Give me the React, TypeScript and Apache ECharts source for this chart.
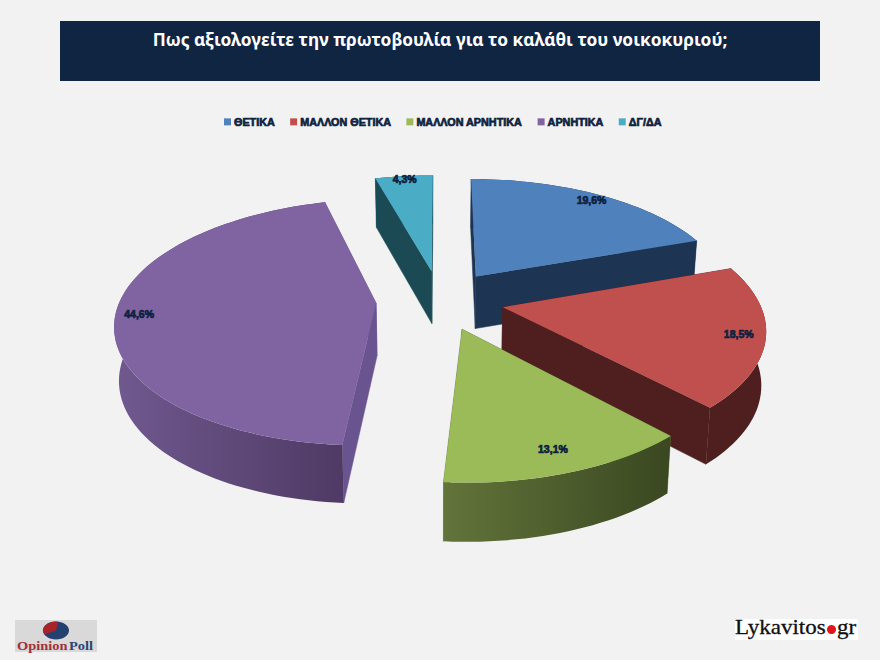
import React, { useEffect, useRef } from "react";
import * as echarts from "echarts";

const titleText = "Πως αξιολογείτε την πρωτοβουλία για το καλάθι του νοικοκυριού;";
const categories = ["ΘΕΤΙΚΑ", "ΜΑΛΛΟΝ ΘΕΤΙΚΑ", "ΜΑΛΛΟΝ ΑΡΝΗΤΙΚΑ", "ΑΡΝΗΤΙΚΑ", "ΔΓ/ΔΑ"];
const values = [19.6, 18.5, 13.1, 44.6, 4.3];

const topColors = ["#4f81bd", "#c0504d", "#9bbb59", "#8064a2", "#4bacc6"];
const wallColors = ["#1d3552", "#4e1f1e", "#62743a", "#6a5490", "#1b4a55"];
const arcColorsFrom = ["#1d3552", "#4e1f1e", "#62743a", "#70598f", "#1b4a55"];
const arcColorsTo = ["#1d3552", "#4e1f1e", "#3a4721", "#4e3a64", "#1b4a55"];
const drawOrder = [2, 4, 5, 3, 1];
const labelRadius = [0.93, 0.9, 0.86, 0.91, 0.97];

const cx = 440, cy = 300, R = 256, T = 119.3, K = 0.156, EXPLODE = 0.25;
const total = values.reduce((a, b) => a + b, 0);
const rad = (p: number) => (p / total) * Math.PI * 2;

function project(X: number, Y: number, low: boolean): number[] {
  const s = 1 / (1 + K * Y);
  let x = cx + R * X * s;
  let y = cy - T * Y * s;
  if (low) {
    x = cx + (x - cx) * 0.985;
    y += 27 + 26 * s;
  }
  return [x, y];
}

function makeRenderItem(index: number) {
  return (_params: any, api: any) => {
    const v = api.value(0);
    const before = values.slice(0, index).reduce((a, b) => a + b, 0);
    const a0 = rad(before);
    const a1 = a0 + rad(v);
    const mid = (a0 + a1) / 2;
    const ax = EXPLODE * Math.sin(mid);
    const ay = EXPLODE * Math.cos(mid);
    const at = (a: number, r: number, low: boolean) => project(ax + r * Math.sin(a), ay + r * Math.cos(a), low);

    const steps = Math.max(8, Math.ceil((a1 - a0) / 0.03));
    const arcTop: number[][] = [];
    const arcLow: number[][] = [];
    for (let i = 0; i <= steps; i++) {
      const a = a0 + ((a1 - a0) * i) / steps;
      arcTop.push(at(a, 1, false));
      arcLow.push(at(a, 1, true));
    }
    const apexTop = at(0, 0, false);
    const apexLow = at(0, 0, true);

    const wall = (a: number) => ({
      type: "polygon",
      shape: { points: [apexTop, at(a, 1, false), at(a, 1, true), apexLow] },
      style: { fill: wallColors[index], stroke: wallColors[index], lineWidth: 0.5 },
    });
    // In the reference the gradient runs left to right across the outer wall.
    const arcWall = {
      type: "polygon",
      shape: { points: [...arcTop, ...arcLow.slice().reverse()] },
      style: {
        fill: new echarts.graphic.LinearGradient(0, 0, 1, 0, [
          { offset: 0, color: arcColorsFrom[index] },
          { offset: 1, color: arcColorsTo[index] },
        ]),
      },
    };
    const face = {
      type: "polygon",
      shape: { points: [apexTop, ...arcTop] },
      style: { fill: topColors[index] },
    };
    const lp = at(mid, labelRadius[index], false);
    const label = {
      type: "text",
      x: lp[0],
      y: lp[1],
      style: {
        text: v.toFixed(1).replace(".", ",") + "%",
        fill: "#0e2240",
        stroke: "#0e2240",
        lineWidth: 0.7,
        font: 'bold 10.5px "Liberation Sans", Arial, sans-serif',
        align: "center",
        verticalAlign: "middle",
      },
    };
    return { type: "group", children: [wall(a0), wall(a1), arcWall, face, label] };
  };
}

export default function App() {
  const ref = useRef<HTMLDivElement>(null);
  useEffect(() => {
    document.body.style.margin = "0";
    const chart = echarts.init(ref.current!, undefined, { renderer: "svg" });
    chart.setOption({
      animation: false,
      backgroundColor: "#f2f2f2",
      legend: {
        left: 219,
        top: 111,
        icon: "rect",
        itemWidth: 7,
        itemHeight: 7,
        itemGap: 15,
        data: categories,
        textStyle: {
          color: "#0e2240",
          fontFamily: '"Liberation Sans", Arial, sans-serif',
          fontWeight: "bold",
          fontSize: 10.8,
          padding: [0, 0, 0, -2],
          textBorderColor: "#0e2240",
          textBorderWidth: 0.7,
        },
      },
      series: categories.map((name, i) => ({
        type: "custom",
        name,
        coordinateSystem: "none",
        z: drawOrder[i],
        silent: true,
        itemStyle: { color: topColors[i] },
        data: [[values[i]]],
        renderItem: makeRenderItem(i),
      })),
      graphic: [
        { type: "rect", z: 10, shape: { x: 60, y: 21, width: 760, height: 60 }, style: { fill: "#102542" } },
        {
          type: "text", z: 11, x: 440, y: 39,
          style: {
            text: titleText, fill: "#ffffff",
            font: 'bold 17.3px "Noto Sans", sans-serif',
            align: "center", verticalAlign: "middle",
          },
        },
        { type: "rect", z: 10, shape: { x: 15, y: 620, width: 82, height: 32 }, style: { fill: "#d9d9d9" } },
        { type: "ellipse", z: 11, shape: { cx: 56, cy: 630.5, rx: 13, ry: 9 }, style: { fill: "#24406e" } },
        {
          type: "sector", z: 12, x: 56, y: 630.5, scaleX: 1, scaleY: 0.69,
          shape: { cx: 0, cy: 0, r0: 0, r: 13, startAngle: Math.PI * 0.85, endAngle: Math.PI * 1.55, clockwise: true },
          style: { fill: "#a8232a" },
        },
        {
          type: "text", z: 11, x: 17, y: 646, scaleX: 1.11,
          style: { text: "Opinion", fill: "#a03038", font: 'bold 13px "Liberation Serif", serif', verticalAlign: "middle" },
        },
        {
          type: "text", z: 11, x: 69, y: 646, scaleX: 1.11,
          style: { text: "Poll", fill: "#2c4470", font: 'bold 13px "Liberation Serif", serif', verticalAlign: "middle" },
        },
        { type: "rect", z: 10, shape: { x: 735, y: 619, width: 123, height: 21 }, style: { fill: "#ffffff" } },
        {
          type: "text", z: 11, x: 735, y: 628, scaleX: 1.15,
          style: { text: "Lykavitos", fill: "#111111", stroke: "#111111", lineWidth: 0.3, font: '20px "Liberation Serif", serif', verticalAlign: "middle" },
        },
        { type: "circle", z: 11, shape: { cx: 831.5, cy: 629.5, r: 4.5 }, style: { fill: "#e0161c" } },
        {
          type: "text", z: 11, x: 837, y: 628, scaleX: 1.15,
          style: { text: "gr", fill: "#111111", stroke: "#111111", lineWidth: 0.3, font: '20px "Liberation Serif", serif', verticalAlign: "middle" },
        },
      ],
    });
    return () => chart.dispose();
  }, []);
  return <div ref={ref} style={{ position: "absolute", left: 0, top: 0, width: 880, height: 660 }} />;
}
